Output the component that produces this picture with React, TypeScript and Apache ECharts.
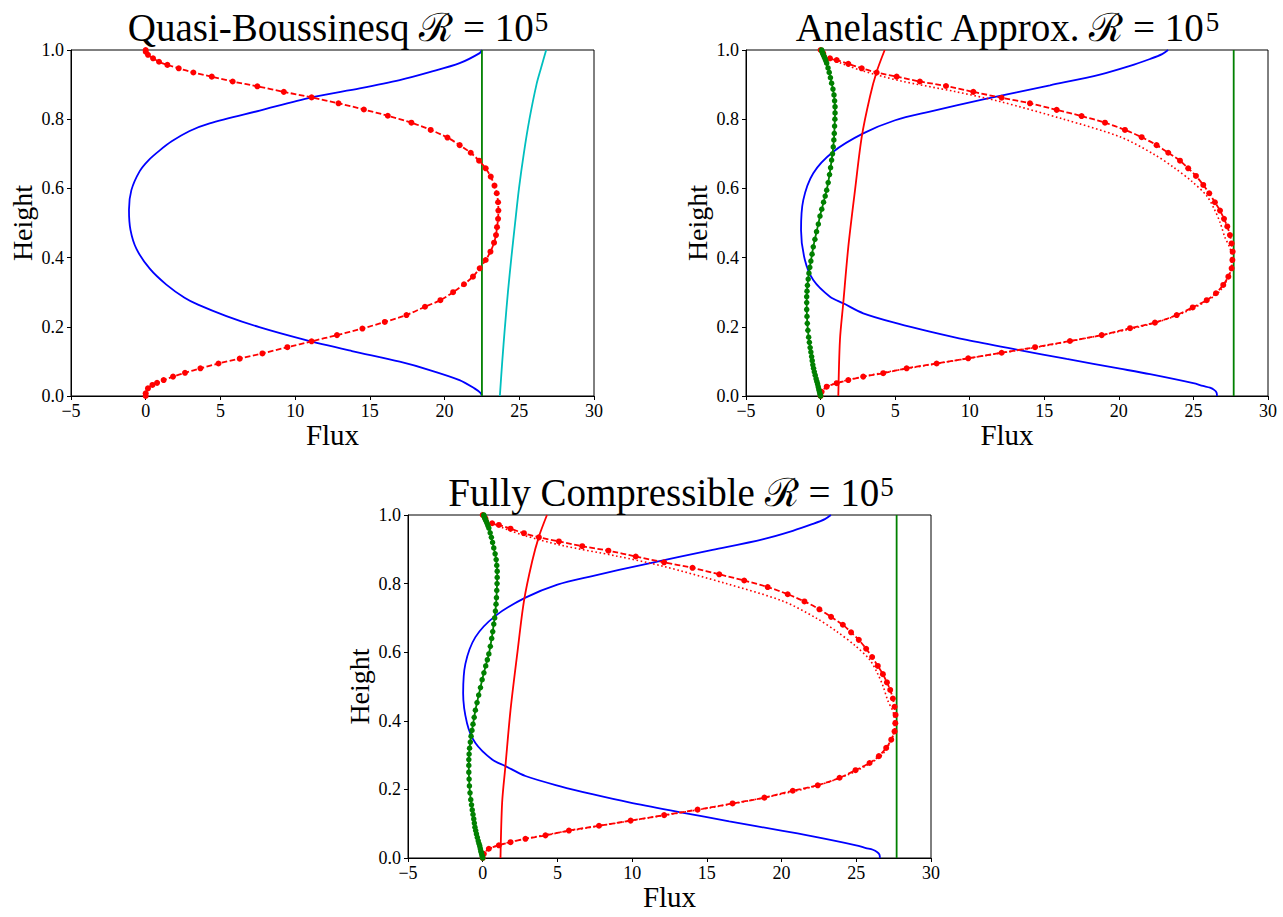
import { useEffect, useRef } from "react";
import * as echarts from "echarts";

// ---------- data: [flux, height] ----------
const titles = ["Quasi-Boussinesq ℛ = 10", "Anelastic Approx. ℛ = 10", "Fully Compressible ℛ = 10"];
const titleExponent = "5";
const xLabel = "Flux";
const yLabel = "Height";

// Quasi-Boussinesq panel
const qbBlue: number[][] = [
  [22.5, 0], [22.4, 0.009], [22.0, 0.022], [21.0, 0.046], [19.0, 0.075], [17.0, 0.099],
  [13.8, 0.13], [10.6, 0.163], [7.6, 0.199], [5.4, 0.231], [3.5, 0.264], [2.6, 0.284],
  [1.38, 0.322], [0.27, 0.368], [-0.62, 0.425], [-1.02, 0.48], [-1.12, 0.538], [-0.96, 0.595],
  [-0.4, 0.65], [0.2, 0.682], [0.94, 0.71], [1.74, 0.736], [2.94, 0.766], [4.28, 0.788],
  [7.63, 0.825], [11.09, 0.863], [14.32, 0.889], [17.0, 0.913], [19.0, 0.936], [21.01, 0.962],
  [22.35, 0.991], [22.5, 1.0],
];
const qbRed: number[][] = [
  [0, 0], [0.0, 0.008], [0.15, 0.022], [0.45, 0.032], [0.76, 0.038], [1.2, 0.046], [1.83, 0.056],
  [2.63, 0.067], [3.66, 0.08], [4.87, 0.094], [6.29, 0.108], [7.81, 0.123], [9.48, 0.141],
  [11.1, 0.158], [12.8, 0.176], [14.5, 0.195], [16.0, 0.214], [17.45, 0.234], [18.69, 0.258],
  [19.72, 0.277], [20.57, 0.3], [21.3, 0.323], [21.9, 0.345], [22.35, 0.369], [22.75, 0.393],
  [23.07, 0.417], [23.31, 0.443], [23.44, 0.465], [23.51, 0.488], [23.58, 0.512], [23.6, 0.536],
  [23.58, 0.56], [23.49, 0.586], [23.34, 0.608], [23.09, 0.634], [22.75, 0.658], [22.31, 0.68],
  [21.75, 0.703], [21.01, 0.725], [20.19, 0.747], [19.07, 0.769], [17.78, 0.79], [16.2, 0.81],
  [14.6, 0.828], [12.9, 0.846], [11.1, 0.863], [9.24, 0.879], [7.47, 0.895], [5.82, 0.909],
  [4.42, 0.923], [3.19, 0.935], [2.21, 0.947], [1.45, 0.957], [0.89, 0.966], [0.49, 0.976],
  [0.15, 0.986], [0.0, 0.995], [0, 1.0],
];
const qbCyan: number[][] = [
  [23.7, 0], [23.86, 0.1], [24.04, 0.2], [24.24, 0.3], [24.47, 0.4], [24.72, 0.5], [24.98, 0.6],
  [25.3, 0.7], [25.68, 0.8], [26.15, 0.9], [26.47, 0.95], [26.8, 1.0],
];
const qbGreen: number[][] = [[22.5, 0], [22.5, 1]];

// Anelastic / fully compressible panels
const anBlue: number[][] = [
  [26.58, 0], [26.55, 0.01], [26.41, 0.017], [26.11, 0.024], [25.64, 0.029], [24.99, 0.037],
  [22.09, 0.063], [20.08, 0.079], [16.5, 0.107], [13.15, 0.134], [9.8, 0.162],
  [7.33, 0.186], [5.2, 0.209], [2.86, 0.239], [1.52, 0.268], [0.63, 0.287], [-0.49, 0.335],
  [-1.05, 0.393], [-1.31, 0.48], [-1.16, 0.566], [-0.49, 0.644], [0.85, 0.706], [2.86, 0.759],
  [5.0, 0.797], [7.33, 0.822], [10.91, 0.857], [15.38, 0.898], [18.73, 0.929], [20.75, 0.954],
  [22.09, 0.974], [22.9, 0.988], [23.3, 1.0],
];
const anRedDashed: number[][] = [
  [0, 0], [0.07, 0.012], [0.41, 0.027], [1.08, 0.037], [1.86, 0.046], [2.86, 0.056], [4.2, 0.066],
  [5.77, 0.08], [7.78, 0.094], [9.9, 0.109], [12.14, 0.125], [14.38, 0.141], [16.72, 0.159],
  [18.85, 0.176], [20.75, 0.196], [22.42, 0.212], [23.88, 0.234], [24.95, 0.256], [25.89, 0.277],
  [26.51, 0.297], [27.0, 0.321], [27.34, 0.345], [27.56, 0.369], [27.61, 0.393], [27.63, 0.417],
  [27.56, 0.441], [27.45, 0.465], [27.27, 0.49], [27.05, 0.512], [26.78, 0.536], [26.44, 0.56],
  [26.06, 0.586], [25.66, 0.61], [25.17, 0.636], [24.65, 0.658], [24.1, 0.68], [23.31, 0.703],
  [22.53, 0.725], [21.53, 0.748], [20.41, 0.769], [19.07, 0.79], [17.5, 0.809], [15.83, 0.827],
  [14.04, 0.846], [12.14, 0.862], [10.24, 0.879], [8.41, 0.896], [6.66, 0.909], [5.1, 0.923],
  [3.76, 0.935], [2.76, 0.947], [1.86, 0.96], [1.08, 0.971], [0.63, 0.976], [0.18, 0.99], [0, 1.0],
];
const anRedDotted: number[][] = [
  [0, 0], [0.6, 0.03], [3.3, 0.06], [7.3, 0.09], [11.5, 0.12], [15.7, 0.15], [19.3, 0.18],
  [22.3, 0.21], [24.3, 0.24], [25.7, 0.27], [26.7, 0.3], [27.3, 0.34], [27.55, 0.38], [27.5, 0.42],
  [27.1, 0.46], [26.8, 0.5], [26.4, 0.54], [25.9, 0.578], [24.9, 0.62], [23.7, 0.66], [22.3, 0.7],
  [20.08, 0.749], [16.3, 0.8], [12.03, 0.851], [9.0, 0.88], [5.33, 0.911], [2.8, 0.94],
  [1.2, 0.965], [0.3, 0.985], [0, 1.0],
];
const anRedSolid: number[][] = [
  [1.19, 0], [1.3, 0.162], [1.52, 0.268], [1.86, 0.431], [2.31, 0.595], [2.76, 0.749],
  [3.31, 0.865], [3.76, 0.937], [4.3, 1.0],
];
const anGreenDots: number[][] = [
  [0, 0], [-0.03, 0.005], [-0.06, 0.01], [-0.09, 0.015], [-0.12, 0.02], [-0.16, 0.027],
  [-0.2, 0.035], [-0.25, 0.042], [-0.3, 0.05], [-0.36, 0.06], [-0.42, 0.07], [-0.47, 0.08],
  [-0.52, 0.09], [-0.56, 0.102], [-0.6, 0.114], [-0.65, 0.127], [-0.7, 0.14], [-0.75, 0.155],
  [-0.8, 0.17], [-0.85, 0.19], [-0.89, 0.21], [-0.91, 0.23], [-0.93, 0.25], [-0.93, 0.27],
  [-0.93, 0.287], [-0.91, 0.303], [-0.88, 0.32], [-0.83, 0.338], [-0.78, 0.355], [-0.72, 0.372],
  [-0.65, 0.39], [-0.57, 0.41], [-0.49, 0.431], [-0.38, 0.453], [-0.27, 0.475], [-0.15, 0.497],
  [-0.04, 0.52], [0.08, 0.54], [0.2, 0.56], [0.31, 0.578], [0.41, 0.595], [0.51, 0.617],
  [0.6, 0.64], [0.67, 0.66], [0.74, 0.682], [0.8, 0.7], [0.85, 0.72], [0.89, 0.74],
  [0.92, 0.759], [0.94, 0.78], [0.96, 0.8], [0.97, 0.818], [0.97, 0.836], [0.94, 0.853],
  [0.9, 0.87], [0.83, 0.887], [0.74, 0.904], [0.66, 0.92], [0.58, 0.935], [0.5, 0.948],
  [0.41, 0.962], [0.35, 0.969], [0.3, 0.975], [0.25, 0.98], [0.2, 0.985], [0.16, 0.989],
  [0.12, 0.993], [0.09, 0.997], [0.07, 1.0],
];
const anGreen: number[][] = [[27.7, 0], [27.7, 1]];

// ---------- styling ----------
const FONT = "'Liberation Serif', 'DejaVu Serif', serif";
const BLUE = "#0000ff";
const RED = "#ff0000";
const GREEN = "#008000";
const CYAN = "#00bfbf";

const grids = [
  { left: 71, top: 50, width: 523, height: 346 },
  { left: 746, top: 50, width: 522, height: 346 },
  { left: 408, top: 515, width: 523, height: 343 },
];
const titleCenters = [
  { x: 338, y: 8 },
  { x: 1007, y: 8 },
  { x: 671, y: 473 },
];

function solid(data: number[][], idx: number, color: string, smooth = 0.3) {
  return {
    type: "line", xAxisIndex: idx, yAxisIndex: idx, data, symbol: "none", silent: true, smooth,
    lineStyle: { color, width: 1.8 }, itemStyle: { color }, z: 2,
  };
}
function dotted(data: number[][], idx: number, color: string) {
  return {
    type: "line", xAxisIndex: idx, yAxisIndex: idx, data, symbol: "none", silent: true, smooth: 0.3,
    lineStyle: { color, width: 1.6, type: [1.6, 2.6] }, itemStyle: { color }, z: 2,
  };
}
function marked(data: number[][], idx: number, color: string, dash: number[] | "solid", size: number) {
  return {
    type: "line", xAxisIndex: idx, yAxisIndex: idx, data, symbol: "circle", symbolSize: size,
    showSymbol: true, silent: true, smooth: 0.3,
    lineStyle: { color, width: 1.8, type: dash }, itemStyle: { color, borderWidth: 0 }, z: 3,
  };
}

export default function App() {
  const ref = useRef<HTMLDivElement>(null);
  useEffect(() => {
    document.body.style.margin = "0";
    const chart = echarts.init(ref.current!, undefined, { renderer: "svg" });
    const xAxes = grids.map((_, i) => ({
      type: "value", gridIndex: i, min: -5, max: 30, interval: 5,
      name: xLabel, nameLocation: "middle", nameGap: 24,
      nameTextStyle: { fontFamily: FONT, fontSize: 29, color: "#000" },
      axisLine: { show: true, onZero: false, lineStyle: { color: "#000", width: 1 } },
      axisTick: { show: true, inside: false, length: 4, lineStyle: { color: "#000" } },
      axisLabel: {
        fontFamily: FONT, fontSize: 18, color: "#000", margin: 6,
        formatter: (v: number) => (v < 0 ? "\u2212" + Math.abs(v) : String(v)),
      },
      splitLine: { show: false },
    }));
    const yAxes = grids.map((_, i) => ({
      type: "value", gridIndex: i, min: 0, max: 1, interval: 0.2,
      name: yLabel, nameLocation: "middle", nameGap: 35, nameRotate: 90,
      nameTextStyle: { fontFamily: FONT, fontSize: 28, color: "#000" },
      axisLine: { show: true, onZero: false, lineStyle: { color: "#000", width: 1 } },
      axisTick: { show: true, inside: false, length: 4, lineStyle: { color: "#000" } },
      axisLabel: {
        fontFamily: FONT, fontSize: 18, color: "#000", margin: 7,
        formatter: (v: number) => v.toFixed(1),
      },
      splitLine: { show: false },
    }));
    const panels = [
      [
        solid(qbBlue, 0, BLUE),
        marked(qbRed, 0, RED, [5.5, 2.4], 6),
        solid(qbGreen, 0, GREEN, 0),
        solid(qbCyan, 0, CYAN),
      ],
      [
        solid(anBlue, 1, BLUE),
        marked(anRedDashed, 1, RED, [5.5, 2.4], 6),
        dotted(anRedDotted, 1, RED),
        solid(anRedSolid, 1, RED),
        marked(anGreenDots, 1, GREEN, "solid", 5.5),
        solid(anGreen, 1, GREEN, 0),
      ],
      [
        solid(anBlue, 2, BLUE),
        marked(anRedDashed, 2, RED, [5.5, 2.4], 6),
        dotted(anRedDotted, 2, RED),
        solid(anRedSolid, 2, RED),
        marked(anGreenDots, 2, GREEN, "solid", 5.5),
        solid(anGreen, 2, GREEN, 0),
      ],
    ];
    chart.setOption({
      animation: false,
      backgroundColor: "#fff",
      title: titles.map((t, i) => ({
        text: `{t|${t}}{s|${titleExponent}}`,
        left: titleCenters[i].x,
        top: titleCenters[i].y,
        textAlign: "center",
        padding: 0,
        textStyle: {
          fontWeight: "normal",
          rich: {
            t: { fontFamily: FONT, fontSize: 39, fontWeight: "normal", color: "#000" },
            s: { fontFamily: FONT, fontSize: 27, fontWeight: "normal", color: "#000", verticalAlign: "top", padding: [0, 0, 0, 1] },
          },
        },
      })),
      grid: grids.map((g) => ({ ...g, show: true, borderColor: "#000", borderWidth: 1, backgroundColor: "transparent" })),
      xAxis: xAxes,
      yAxis: yAxes,
      series: panels.flat(),
    });
    return () => chart.dispose();
  }, []);
  return <div ref={ref} style={{ width: 1283, height: 917 }} />;
}
